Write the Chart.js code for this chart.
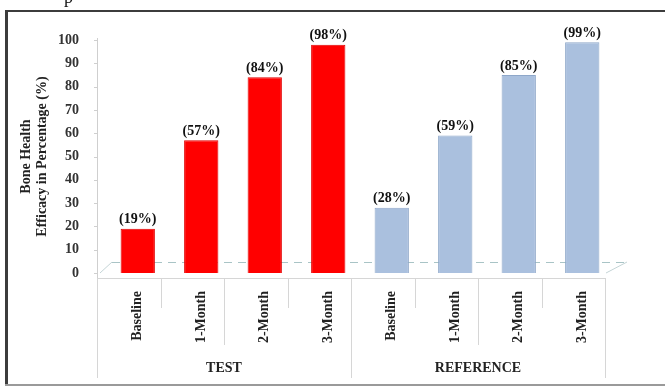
<!DOCTYPE html>
<html>
<head>
<meta charset="utf-8">
<script src="https://cdn.jsdelivr.net/npm/chart.js@4.4.1/dist/chart.umd.min.js"></script>
<style>
  html, body { margin: 0; padding: 0; background: #fff; }
  canvas { display: block; }
</style>
</head>
<body>
<canvas id="efficacy-chart" width="665" height="388"></canvas>
<script>
// 分組與時間點
const groups = ["TEST", "REFERENCE"];
const timePoints = ["Baseline", "1-Month", "2-Month", "3-Month"];
// 各組數值 (%)
const testValues = [19, 57, 84, 98];
const referenceValues = [28, 59, 85, 99];
// y 軸
const yMin = 0;
const yMax = 100;
const yStep = 10;
const yTitle = ["Bone Health", "Efficacy in Percentage (%)"];

const serif = "'Times New Roman', 'Liberation Serif', serif";
const testColor = "#ff0000";
const refColor = "#aac0de";

// 組合成圖表需要的格式
const labels = [...timePoints, ...timePoints];
const values = [...testValues, ...referenceValues];
const colors = values.map((v, i) => (i < testValues.length ? testColor : refColor));
const borders = values.map((v, i) => (i < testValues.length ? "#e00000" : "#8ea7c9"));

// 3D 底板、分隔線
const floorPlugin = {
  id: "floor3d",
  beforeDatasetsDraw(chart) {
    const { ctx, chartArea, scales } = chart;
    const x = scales.x;
    const y = scales.y;
    const y0 = y.getPixelForValue(0);
    const left = chartArea.left;
    const right = chartArea.right;
    const dx = 9;
    const frontY = y0 + 5;
    ctx.save();
    // y 軸線
    ctx.strokeStyle = "#cfcfcf";
    ctx.lineWidth = 1;
    ctx.beginPath();
    ctx.moveTo(left - dx + 0.5, y.getPixelForValue(yMax) - 2);
    ctx.lineTo(left - dx + 0.5, frontY);
    for (let v = yMin; v <= yMax; v += yStep) {
      const py = Math.round(y.getPixelForValue(v)) + 0.5;
      ctx.moveTo(left - dx - 3, py);
      ctx.lineTo(left - dx, py);
    }
    ctx.stroke();
    // 底板 (虛線)
    ctx.strokeStyle = "#a9c4c6";
    ctx.setLineDash([8, 6]);
    ctx.beginPath();
    ctx.moveTo(left + 6, y0 - 10.5);
    ctx.lineTo(right + 13, y0 - 10.5);
    ctx.stroke();
    ctx.setLineDash([]);
    ctx.strokeStyle = "#c4d4d6";
    ctx.beginPath();
    ctx.moveTo(left - 6, y0);
    ctx.lineTo(left + 6, y0 - 11);
    ctx.moveTo(right - 8, y0);
    ctx.lineTo(right + 13, y0 - 11);
    ctx.stroke();
    // 前緣水平線
    ctx.strokeStyle = "#d6d6d6";
    ctx.beginPath();
    ctx.moveTo(left - dx, frontY + 0.5);
    ctx.lineTo(right - dx, frontY + 0.5);
    // 類別分隔線
    const n = labels.length;
    for (let k = 0; k <= n; k++) {
      const px = Math.round(x.getPixelForValue(k - 0.5) - dx) + 0.5;
      let bottom = 308;
      if (k % timePoints.length === 0) bottom = 378;
      else if (k % 2 === 0) bottom = 345;
      ctx.moveTo(px, frontY);
      ctx.lineTo(px, bottom);
    }
    ctx.stroke();
    ctx.restore();
  },
  afterDatasetsDraw(chart) {
    // 柱狀圖上方的百分比
    const { ctx } = chart;
    const meta = chart.getDatasetMeta(0);
    ctx.save();
    ctx.font = `bold 14px ${serif}`;
    ctx.fillStyle = "#111";
    ctx.textAlign = "center";
    ctx.textBaseline = "bottom";
    meta.data.forEach((bar, i) => {
      ctx.fillText(`(${values[i]}%)`, bar.x, bar.y - 2);
    });
    ctx.restore();
  },
  afterDraw(chart) {
    const { ctx, scales } = chart;
    const x = scales.x;
    const dx = 9;
    ctx.save();
    // 分組名稱
    ctx.font = `bold 14px ${serif}`;
    ctx.fillStyle = "#222";
    ctx.textAlign = "center";
    ctx.textBaseline = "middle";
    groups.forEach((g, gi) => {
      const a = x.getPixelForValue(gi * timePoints.length - 0.5) - dx;
      const b = x.getPixelForValue((gi + 1) * timePoints.length - 0.5) - dx;
      ctx.fillText(g, (a + b) / 2, 368);
    });
    // 外框
    ctx.strokeStyle = "#3c3c3c";
    ctx.lineWidth = 2;
    ctx.beginPath();
    ctx.moveTo(5, 11);
    ctx.lineTo(665, 11);
    ctx.stroke();
    ctx.lineWidth = 3;
    ctx.beginPath();
    ctx.moveTo(6.5, 10);
    ctx.lineTo(6.5, 385);
    ctx.stroke();
    ctx.strokeStyle = "#9a9a9a";
    ctx.lineWidth = 2;
    ctx.beginPath();
    ctx.moveTo(5, 385);
    ctx.lineTo(665, 385);
    ctx.stroke();
    // 上方被裁切的文字
    ctx.font = `18px ${serif}`;
    ctx.fillStyle = "#111";
    ctx.textAlign = "left";
    ctx.textBaseline = "alphabetic";
    ctx.fillText("p", 64, 3);
    ctx.restore();
  }
};

const canvas = document.getElementById("efficacy-chart");
new Chart(canvas, {
  type: "bar",
  data: {
    labels: labels,
    datasets: [
      {
        label: "Efficacy",
        data: values,
        backgroundColor: colors,
        borderColor: borders,
        borderWidth: 1,
        barPercentage: 0.54,
        categoryPercentage: 1.0,
      },
    ],
  },
  options: {
    responsive: false,
    animation: false,
    devicePixelRatio: 1,
    layout: { padding: { top: 40, right: 51, bottom: 0, left: 0 } },
    plugins: {
      legend: { display: false },
      tooltip: { enabled: false },
    },
    scales: {
      x: {
        grid: { display: false },
        border: { display: false },
        ticks: {
          autoSkip: false,
          minRotation: 90,
          maxRotation: 90,
          padding: 10,
          color: "#222",
          font: { family: serif, size: 14, weight: "bold" },
        },
        afterFit: (scale) => {
          scale.height = 115;
        },
      },
      y: {
        min: yMin,
        max: yMax,
        grid: { display: false },
        border: { display: false },
        ticks: {
          stepSize: yStep,
          padding: 19,
          color: "#333",
          font: { family: serif, size: 14, weight: "bold" },
        },
        title: {
          display: true,
          text: yTitle,
          color: "#222",
          padding: { top: 19, bottom: 0 },
          font: { family: serif, size: 14, weight: "bold", lineHeight: 1.1 },
        },
        afterFit: (scale) => {
          scale.width = 106;
        },
      },
    },
  },
  plugins: [floorPlugin],
});
</script>
</body>
</html>
